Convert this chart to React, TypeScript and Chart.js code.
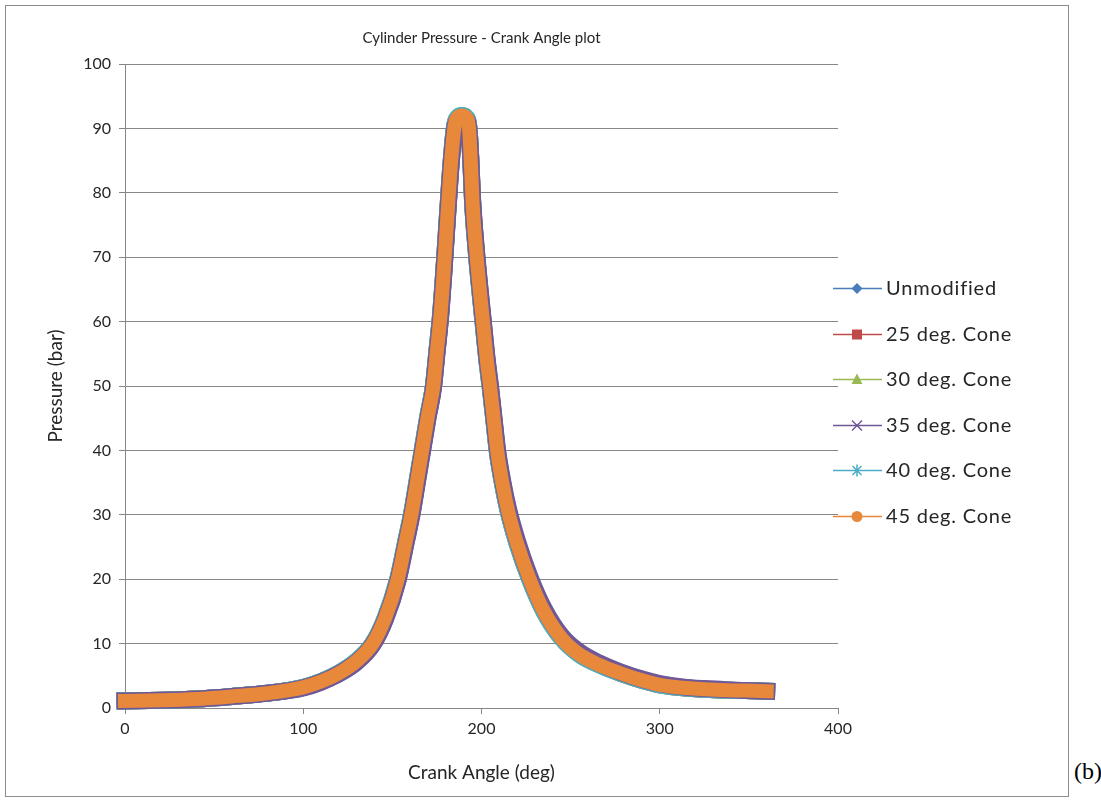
import React, { useEffect, useRef } from 'react';
import { Chart, registerables } from 'chart.js';

Chart.register(...registerables);

// ---------- data ----------
const crankAngle = [
  0, 20, 40, 60, 80, 100, 110, 120, 130, 139, 146, 153, 158, 161, 164, 167, 170, 173, 175, 177,
  179, 181, 183, 185, 187, 189, 191, 193, 194, 195, 197, 199, 201, 203, 205, 207, 209, 212, 215, 220,
  227, 235, 245, 255, 266, 278, 290, 300, 315, 334, 348, 360,
];

const unmodified = [
  1.1, 1.2, 1.4, 1.8, 2.3, 3.2, 4.1, 5.3, 7.2, 9.9, 13.8, 19.7, 26.2, 30.2, 35.2, 40.2, 45.2, 49.8, 55.2, 60.7,
  68.2, 76.6, 84.6, 90.2, 91.5, 91.7, 91.5, 89.8, 85.2, 78.8, 71.3, 65.3, 59.8, 54.3, 49.8, 44.8, 39.8, 34.8, 30.8, 25.8,
  20.3, 15.3, 11.0, 8.5, 6.9, 5.5, 4.4, 3.7, 3.1, 2.8, 2.7, 2.6,
];
const cone25 = [
  1.1, 1.2, 1.4, 1.8, 2.3, 3.2, 4.1, 5.4, 7.3, 10.0, 13.9, 19.9, 26.4, 30.4, 35.4, 40.4, 45.4, 49.9, 55.4, 60.9,
  68.4, 76.9, 84.9, 90.4, 91.7, 91.9, 91.7, 89.9, 85.1, 78.6, 71.1, 65.1, 59.6, 54.1, 49.6, 44.6, 39.6, 34.6, 30.6, 25.6,
  20.1, 15.1, 10.9, 8.4, 6.8, 5.4, 4.3, 3.6, 3.1, 2.8, 2.7, 2.6,
];
const cone30 = [
  1.1, 1.2, 1.4, 1.8, 2.3, 3.2, 4.1, 5.4, 7.3, 10.0, 14.0, 20.0, 26.5, 30.5, 35.5, 40.5, 45.5, 50.0, 55.5, 61.0,
  68.5, 77.0, 85.0, 90.5, 91.8, 92.0, 91.8, 90.0, 85.0, 78.5, 71.0, 65.0, 59.5, 54.0, 49.5, 44.5, 39.5, 34.5, 30.5, 25.5,
  20.0, 15.0, 10.8, 8.3, 6.7, 5.4, 4.3, 3.6, 3.1, 2.8, 2.7, 2.6,
];
const cone35 = [
  1.1, 1.2, 1.4, 1.8, 2.3, 3.1, 4.0, 5.3, 7.1, 9.8, 13.7, 19.6, 26.0, 30.0, 35.0, 40.0, 45.0, 49.6, 55.0, 60.5,
  68.0, 76.5, 84.5, 90.0, 91.4, 91.6, 91.4, 89.7, 85.4, 79.0, 71.6, 65.6, 60.1, 54.6, 50.1, 45.1, 40.1, 35.1, 31.1, 26.1,
  20.5, 15.5, 11.2, 8.7, 7.0, 5.6, 4.5, 3.8, 3.2, 2.9, 2.7, 2.6,
];
const cone40 = [
  1.1, 1.2, 1.4, 1.8, 2.3, 3.2, 4.1, 5.4, 7.3, 10.0, 14.0, 20.0, 26.5, 30.5, 35.5, 40.5, 45.5, 50.0, 55.5, 61.0,
  68.5, 77.0, 85.0, 90.5, 91.8, 92.0, 91.8, 90.0, 85.0, 78.5, 71.0, 65.0, 59.5, 54.0, 49.5, 44.5, 39.5, 34.5, 30.5, 25.5,
  20.0, 15.0, 10.8, 8.3, 6.7, 5.4, 4.3, 3.6, 3.1, 2.8, 2.7, 2.6,
];
const cone45 = [
  1.1, 1.2, 1.4, 1.8, 2.3, 3.2, 4.1, 5.4, 7.3, 10.0, 14.0, 20.0, 26.5, 30.5, 35.5, 40.5, 45.5, 50.0, 55.5, 61.0,
  68.5, 77.0, 85.0, 90.5, 91.8, 92.0, 91.8, 90.0, 85.0, 78.5, 71.0, 65.0, 59.5, 54.0, 49.5, 44.5, 39.5, 34.5, 30.5, 25.5,
  20.0, 15.0, 10.8, 8.3, 6.7, 5.4, 4.3, 3.6, 3.1, 2.8, 2.7, 2.6,
];

const seriesNames = ['Unmodified', '25 deg. Cone', '30 deg. Cone', '35 deg. Cone', '40 deg. Cone', '45 deg. Cone'];
const seriesValues = [unmodified, cone25, cone30, cone35, cone40, cone45];
const seriesColors = ['#4A7EBB', '#BE4B48', '#98B954', '#6E5898', '#4BACC6', '#E8883A'];
const seriesMarkers = ['diamond', 'square', 'triangle', 'cross', 'star', 'circle'];

const xMin = 0;
const xMax = 400;
const xStep = 100;
const yMin = 0;
const yMax = 100;
const yStep = 10;

const chartTitle = 'Cylinder Pressure - Crank Angle plot';
const xTitle = 'Crank Angle (deg)';
const yTitle = 'Pressure (bar)';

const FONT = 'Lato, "Open Sans", sans-serif';
const GRID = '#878787';
const TEXT = '#262626';

function drawMarker(ctx: CanvasRenderingContext2D, kind: string, x: number, y: number, color: string) {
  ctx.save();
  ctx.fillStyle = color;
  ctx.strokeStyle = color;
  ctx.lineWidth = 1.5;
  ctx.beginPath();
  if (kind === 'diamond') {
    ctx.moveTo(x, y - 5.5);
    ctx.lineTo(x + 5.5, y);
    ctx.lineTo(x, y + 5.5);
    ctx.lineTo(x - 5.5, y);
    ctx.closePath();
    ctx.fill();
  } else if (kind === 'square') {
    ctx.rect(x - 5, y - 5, 10, 10);
    ctx.fill();
  } else if (kind === 'triangle') {
    ctx.moveTo(x, y - 6);
    ctx.lineTo(x + 5.5, y + 4.5);
    ctx.lineTo(x - 5.5, y + 4.5);
    ctx.closePath();
    ctx.fill();
  } else if (kind === 'cross') {
    ctx.moveTo(x - 5, y - 5);
    ctx.lineTo(x + 5, y + 5);
    ctx.moveTo(x + 5, y - 5);
    ctx.lineTo(x - 5, y + 5);
    ctx.stroke();
  } else if (kind === 'star') {
    ctx.moveTo(x - 4.5, y - 4.5);
    ctx.lineTo(x + 4.5, y + 4.5);
    ctx.moveTo(x + 4.5, y - 4.5);
    ctx.lineTo(x - 4.5, y + 4.5);
    ctx.moveTo(x, y - 6);
    ctx.lineTo(x, y + 6);
    ctx.stroke();
  } else {
    ctx.arc(x, y, 5.5, 0, Math.PI * 2);
    ctx.fill();
  }
  ctx.restore();
}

const excelLegend = {
  id: 'excelLegend',
  afterDraw(chart: any) {
    const ctx: any = chart.ctx;
    const top = 282;
    const gap = 45.6;
    const lineStart = 827;
    const lineEnd = 876;
    const markerX = 851;
    const textX = 880;
    ctx.save();
    ctx.font = `20px ${FONT}`;
    try {
      ctx.letterSpacing = '0.8px';
    } catch (e) {
      /* ignore */
    }
    ctx.textBaseline = 'middle';
    ctx.textAlign = 'left';
    seriesNames.forEach((name, i) => {
      const y = Math.round(top + i * gap) + 0.5;
      ctx.strokeStyle = seriesColors[i];
      ctx.lineWidth = 1.5;
      ctx.beginPath();
      ctx.moveTo(lineStart, y);
      ctx.lineTo(lineEnd, y);
      ctx.stroke();
      drawMarker(ctx, seriesMarkers[i], markerX, y, seriesColors[i]);
      ctx.fillStyle = TEXT;
      ctx.fillText(name, textX, y);
    });
    ctx.restore();
  },
};

export default function App() {
  const canvasRef = useRef<HTMLCanvasElement | null>(null);

  useEffect(() => {
    document.body.style.margin = '0';
    const canvas = canvasRef.current;
    if (!canvas) return;

    const order = [5, 4, 3, 1, 2, 0];
    const datasets = seriesValues.map((vals, i) => ({
      label: seriesNames[i],
      data: crankAngle.map((x, j) => ({ x, y: vals[j] })),
      borderColor: seriesColors[i],
      backgroundColor: seriesColors[i],
      borderWidth: i === 5 ? 14 : 17,
      pointRadius: 0,
      pointHoverRadius: 0,
      cubicInterpolationMode: 'monotone' as const,
      borderJoinStyle: 'round' as const,
      borderCapStyle: 'square' as const,
      fill: false,
      clip: false as any,
      order: order[i],
    }));

    const chart = new Chart(canvas, {
      type: 'line',
      data: { datasets },
      plugins: [excelLegend],
      options: {
        responsive: false,
        animation: false,
        events: [],
        layout: { padding: { left: 0, top: 0, right: 229, bottom: 0 } },
        plugins: {
          legend: { display: false },
          tooltip: { enabled: false },
          title: {
            display: true,
            text: chartTitle,
            fullSize: false,
            color: TEXT,
            font: { family: FONT, size: 15, weight: 'normal' },
            padding: { top: 23, bottom: 17 },
          },
        },
        scales: {
          x: {
            type: 'linear',
            min: xMin,
            max: xMax,
            afterFit: (scale: any) => {
              scale.height = 87;
            },
            ticks: {
              stepSize: xStep,
              color: TEXT,
              padding: 5,
              maxRotation: 0,
              font: { family: FONT, size: 16 },
            },
            grid: {
              drawOnChartArea: false,
              drawTicks: true,
              tickLength: 6,
              color: GRID,
            },
            border: { display: true, color: GRID, width: 1 },
            title: {
              display: true,
              text: xTitle,
              color: TEXT,
              font: { family: FONT, size: 19 },
              padding: { top: 0, bottom: 11 },
            },
          },
          y: {
            type: 'linear',
            min: yMin,
            max: yMax,
            afterFit: (scale: any) => {
              scale.width = 119;
            },
            ticks: {
              stepSize: yStep,
              color: TEXT,
              padding: 8,
              font: { family: FONT, size: 16 },
            },
            grid: {
              drawOnChartArea: true,
              drawTicks: true,
              tickLength: 6,
              color: GRID,
            },
            border: { display: true, color: GRID, width: 1 },
            title: {
              display: true,
              text: yTitle,
              color: TEXT,
              font: { family: FONT, size: 19 },
              padding: { top: 38, bottom: 0 },
            },
          },
        },
      } as any,
    });

    return () => {
      chart.destroy();
    };
  }, []);

  return (
    <div style={{ position: 'relative', width: 1101, height: 809, background: '#fff' }}>
      <div
        style={{
          position: 'absolute',
          left: 5,
          top: 5,
          width: 1064,
          height: 792,
          border: '1px solid #8c8c8c',
          boxSizing: 'border-box',
        }}
      />
      <canvas
        ref={canvasRef}
        width={1061}
        height={789}
        style={{ position: 'absolute', left: 6, top: 6, width: 1061, height: 789 }}
      />
      <span
        style={{
          position: 'absolute',
          left: 1074,
          top: 756,
          fontFamily: '"Liberation Serif", "DejaVu Serif", serif',
          fontSize: 24,
          color: '#000',
          lineHeight: '30px',
        }}
      >
        (b)
      </span>
    </div>
  );
}
